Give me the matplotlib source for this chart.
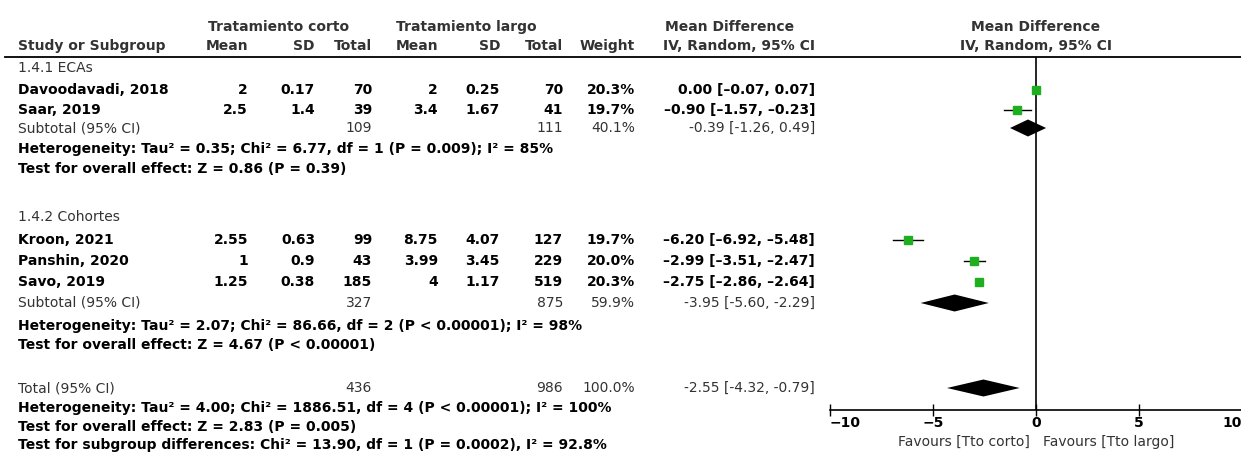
import matplotlib
matplotlib.use("Agg")
import matplotlib.pyplot as plt

# study-level data
studies = ["Davoodavadi, 2018", "Saar, 2019", "Kroon, 2021", "Panshin, 2020", "Savo, 2019"]
mean_c = [2, 2.5, 2.55, 1, 1.25]
sd_c = [0.17, 1.4, 0.63, 0.9, 0.38]
n_c = [70, 39, 99, 43, 185]
mean_l = [2, 3.4, 8.75, 3.99, 4]
sd_l = [0.25, 1.67, 4.07, 3.45, 1.17]
n_l = [70, 41, 127, 229, 519]
weight = [20.3, 19.7, 19.7, 20.0, 20.3]
md = [0.00, -0.90, -6.20, -2.99, -2.75]
md_lo = [-0.07, -1.57, -6.92, -3.51, -2.86]
md_hi = [0.07, -0.23, -5.48, -2.47, -2.64]

# subgroup and overall pooled results
groups = ["1.4.1 ECAs", "1.4.2 Cohortes"]
sub_n_c = [109, 327]
sub_n_l = [111, 875]
sub_w = [40.1, 59.9]
sub_md = [-0.39, -3.95]
sub_lo = [-1.26, -5.60]
sub_hi = [0.49, -2.29]
sub_het = ["Heterogeneity: Tau² = 0.35; Chi² = 6.77, df = 1 (P = 0.009); I² = 85%",
           "Heterogeneity: Tau² = 2.07; Chi² = 86.66, df = 2 (P < 0.00001); I² = 98%"]
sub_z = ["Test for overall effect: Z = 0.86 (P = 0.39)",
         "Test for overall effect: Z = 4.67 (P < 0.00001)"]
tot_n_c, tot_n_l, tot_w = 436, 986, 100.0
tot_md, tot_lo, tot_hi = -2.55, -4.32, -0.79
tot_notes = ["Heterogeneity: Tau² = 4.00; Chi² = 1886.51, df = 4 (P < 0.00001); I² = 100%",
             "Test for overall effect: Z = 2.83 (P = 0.005)",
             "Test for subgroup differences: Chi² = 13.90, df = 1 (P = 0.0002), I² = 92.8%"]
xticks = [-10, -5, 0, 5, 10]
xticklabels = ["−10", "−5", "0", "5", "10"]

W, H = 1241, 463
fig = plt.figure(figsize=(W / 100, H / 100), dpi=100)
tx = fig.add_axes([0, 0, 1, 1])
tx.set_xlim(0, W)
tx.set_ylim(H, 0)
tx.axis("off")

FS = 10
GREY = "#333333"
GREEN = "#1fae1f"

# row layout (pixel rows)
study_rows = [[90, 110], [240, 261, 282]]
group_rows = [68, 217]
sub_rows = [128, 303]
het_rows = [[149, 169], [326, 345]]
tot_row = 388
tot_note_rows = [408, 427, 445]

# column right edges
c_mean_c, c_sd_c, c_n_c = 248, 315, 372
c_mean_l, c_sd_l, c_n_l = 438, 500, 563
c_w, c_md = 635, 815
left = 18


def fmt_ci(m, lo, hi, minus="–"):
    s = "{:.2f} [{:.2f}, {:.2f}]".format(m, lo, hi)
    return s.replace("-", minus)


# header
hdr = dict(fontsize=FS, fontweight="bold", color=GREY, va="center")
tx.text(279, 27, "Tratamiento corto", ha="center", **hdr)
tx.text(466, 27, "Tratamiento largo", ha="center", **hdr)
tx.text(730, 27, "Mean Difference", ha="center", **hdr)
tx.text(1036, 27, "Mean Difference", ha="center", **hdr)
tx.text(left, 46, "Study or Subgroup", ha="left", **hdr)
for x, s in [(c_mean_c, "Mean"), (c_sd_c, "SD"), (c_n_c, "Total"),
             (c_mean_l, "Mean"), (c_sd_l, "SD"), (c_n_l, "Total"),
             (c_w, "Weight"), (c_md, "IV, Random, 95% CI")]:
    tx.text(x, 46, s, ha="right", **hdr)
tx.text(1036, 46, "IV, Random, 95% CI", ha="center", **hdr)
tx.plot([5, W], [57, 57], color="black", lw=1.3)

# forest panel: -10..10 mapped onto x pixels 830..1242
fa = fig.add_axes([830 / W, (H - 410) / H, 412 / W, 353 / H])
fa.set_xlim(-10, 10)
fa.set_ylim(410, 57)
fa.patch.set_visible(False)
for side in ["left", "right", "top"]:
    fa.spines[side].set_visible(False)
fa.spines["bottom"].set_linewidth(1.2)
fa.set_yticks([])
fa.axvline(0, color="black", lw=1.2)

body = dict(fontsize=FS, fontweight="bold", color="black", va="center")
sub = dict(fontsize=FS, color=GREY, va="center")

i = 0
for g in range(len(groups)):
    tx.text(left, group_rows[g], groups[g], ha="left", **sub)
    for y in study_rows[g]:
        tx.text(left, y, studies[i], ha="left", **body)
        for x, v in [(c_mean_c, mean_c[i]), (c_sd_c, sd_c[i]), (c_n_c, n_c[i]),
                     (c_mean_l, mean_l[i]), (c_sd_l, sd_l[i]), (c_n_l, n_l[i])]:
            tx.text(x, y, "{:g}".format(v), ha="right", **body)
        tx.text(c_w, y, "{:.1f}%".format(weight[i]), ha="right", **body)
        tx.text(c_md, y, fmt_ci(md[i], md_lo[i], md_hi[i]), ha="right", **body)
        fa.plot([md_lo[i], md_hi[i]], [y, y], color="black", lw=1, clip_on=False)
        fa.plot(md[i], y, marker="s", ms=5.2 * (weight[i] / 20) ** 0.5,
                color=GREEN, mec=GREEN, clip_on=False)
        i += 1
    ys = sub_rows[g]
    tx.text(left, ys, "Subtotal (95% CI)", ha="left", **sub)
    tx.text(c_n_c, ys, str(sub_n_c[g]), ha="right", **sub)
    tx.text(c_n_l, ys, str(sub_n_l[g]), ha="right", **sub)
    tx.text(c_w, ys, "{:.1f}%".format(sub_w[g]), ha="right", **sub)
    tx.text(c_md, ys, fmt_ci(sub_md[g], sub_lo[g], sub_hi[g], "-"), ha="right", **sub)
    fa.fill([sub_lo[g], sub_md[g], sub_hi[g], sub_md[g]],
            [ys, ys - 8.5, ys, ys + 8.5], color="black", lw=0)
    tx.text(left, het_rows[g][0], sub_het[g], ha="left", **body)
    tx.text(left, het_rows[g][1], sub_z[g], ha="left", **body)

# overall
tx.text(left, tot_row, "Total (95% CI)", ha="left", **sub)
tx.text(c_n_c, tot_row, str(tot_n_c), ha="right", **sub)
tx.text(c_n_l, tot_row, str(tot_n_l), ha="right", **sub)
tx.text(c_w, tot_row, "{:.1f}%".format(tot_w), ha="right", **sub)
tx.text(c_md, tot_row, fmt_ci(tot_md, tot_lo, tot_hi, "-"), ha="right", **sub)
fa.fill([tot_lo, tot_md, tot_hi, tot_md],
        [tot_row, tot_row - 8.5, tot_row, tot_row + 8.5], color="black", lw=0)
for y, s in zip(tot_note_rows, tot_notes):
    tx.text(left, y, s, ha="left", **body)

# x axis
fa.set_xticks(xticks)
fa.set_xticklabels(xticklabels, fontsize=FS, fontweight="bold")
fa.tick_params(axis="x", direction="inout", length=8, width=1, pad=0)
labs = fa.get_xticklabels()
labs[0].set_ha("left")
labs[-1].set_ha("right")

tx.text(1030, 442, "Favours [Tto corto]", ha="right", va="center", fontsize=FS, color=GREY)
tx.text(1043, 442, "Favours [Tto largo]", ha="left", va="center", fontsize=FS, color=GREY)

fig.savefig("out.png", dpi=100)
